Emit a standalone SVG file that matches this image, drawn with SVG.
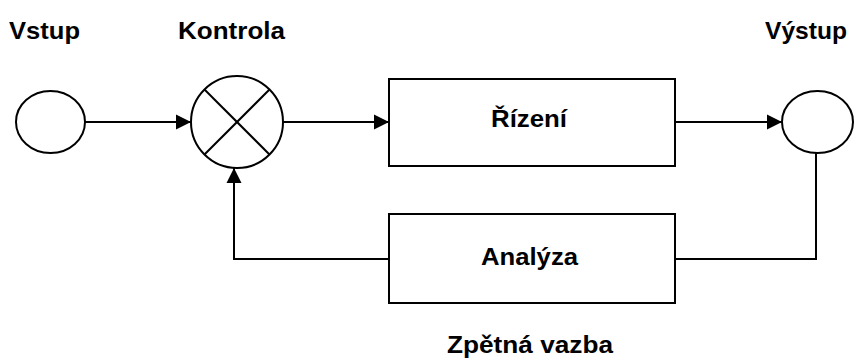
<svg xmlns="http://www.w3.org/2000/svg" width="856" height="359" viewBox="0 0 856 359">
  <style>
    .shape { fill: #ffffff; stroke: #000000; stroke-width: 2; }
    .wire { fill: none; stroke: #000000; stroke-width: 2; }
    .label { font-family: "Liberation Sans", Arial, sans-serif; font-weight: bold; font-size: 24px; fill: #000000; }
  </style>
  <defs>
    <marker id="arrow" markerUnits="userSpaceOnUse" markerWidth="16" markerHeight="16" viewBox="0 0 16 16" refX="15" refY="8" orient="auto">
      <path d="M0,0.5 L15,8 L0,15.5 Z" fill="#000000"/>
    </marker>
  </defs>
  <rect width="856" height="359" fill="#ffffff"/>

  <!-- headings -->
  <text class="label" x="9" y="39" textLength="71" lengthAdjust="spacingAndGlyphs">Vstup</text>
  <text class="label" x="178" y="39" textLength="107" lengthAdjust="spacingAndGlyphs">Kontrola</text>
  <text class="label" x="765" y="39" textLength="82" lengthAdjust="spacingAndGlyphs">Výstup</text>

  <!-- connectors -->
  <g id="connectors">
    <line class="wire" x1="85" y1="122" x2="191" y2="122" marker-end="url(#arrow)"/>
    <line class="wire" x1="283" y1="122" x2="389" y2="122" marker-end="url(#arrow)"/>
    <line class="wire" x1="675" y1="122" x2="782" y2="122" marker-end="url(#arrow)"/>
    <polyline class="wire" points="816,153 816,259 675,259"/>
    <polyline class="wire" points="389,259 234,259 234,168" marker-end="url(#arrow)"/>
  </g>

  <!-- input -->
  <g id="input">
    <ellipse class="shape" cx="50.5" cy="122" rx="34.5" ry="31"/>
  </g>

  <!-- comparator -->
  <g id="comparator">
    <circle class="shape" cx="237" cy="122" r="46"/>
    <line class="wire" x1="204.5" y1="89.5" x2="269.5" y2="154.5"/>
    <line class="wire" x1="269.5" y1="89.5" x2="204.5" y2="154.5"/>
  </g>

  <!-- controller -->
  <g id="control">
    <rect class="shape" x="389" y="79" width="286" height="87"/>
    <text class="label" x="491" y="127" textLength="76" lengthAdjust="spacingAndGlyphs">Řízení</text>
  </g>

  <!-- output -->
  <g id="output">
    <ellipse class="shape" cx="817.5" cy="122" rx="35.5" ry="31"/>
  </g>

  <!-- feedback analysis -->
  <g id="analysis">
    <rect class="shape" x="389" y="214" width="286" height="89"/>
    <text class="label" x="481" y="265" textLength="97" lengthAdjust="spacingAndGlyphs">Analýza</text>
  </g>

  <text class="label" x="447" y="353" textLength="166" lengthAdjust="spacingAndGlyphs">Zpětná vazba</text>
</svg>
